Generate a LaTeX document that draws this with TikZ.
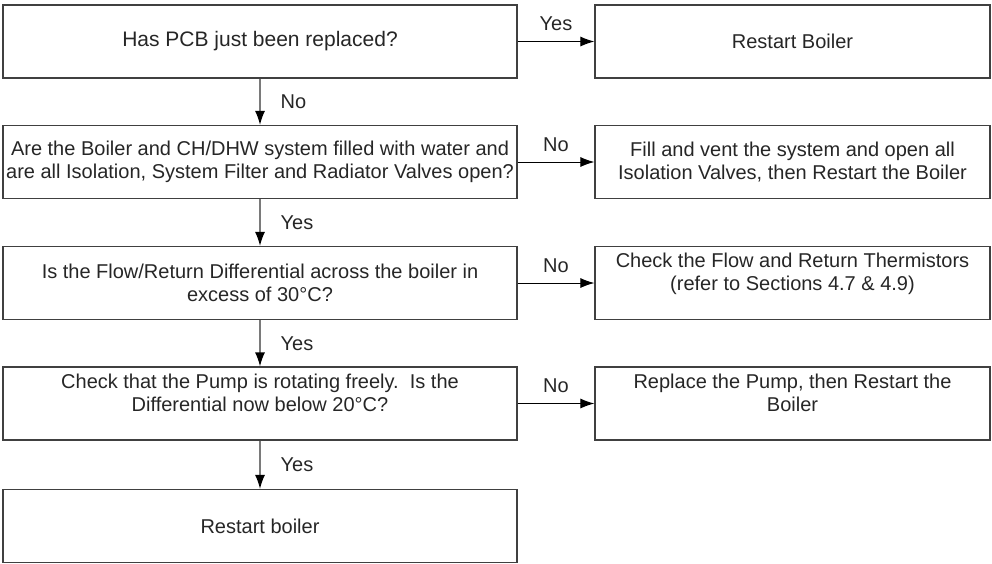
\documentclass[tikz,border=0pt]{standalone}
\usepackage{fontspec}
\setmainfont{Liberation Sans}
\usetikzlibrary{arrows.meta}
\definecolor{boxline}{HTML}{404040}
\definecolor{txt}{HTML}{262626}
\definecolor{stem}{HTML}{7A7A7A}

\begin{document}
\begin{tikzpicture}[x=1pt,y=-1pt,>={Latex[length=14pt,width=10pt,color=black]},
  box/.style={draw=boxline,line width=1.2pt,minimum height=73pt,inner sep=0pt,
    align=center,text=txt,font=\fontsize{20}{23}\selectfont},
  qbox/.style={box,minimum width=514pt},
  abox/.style={box,minimum width=395pt},
  raised/.style={text depth=22pt},
  down/.style={->,draw=stem,line width=1.3pt},
  side/.style={->,draw=black,line width=1pt},
  lbl/.style={inner sep=0pt,text=txt,font=\fontsize{20}{23}\selectfont}]
  \useasboundingbox (0,0) rectangle (992,563);
  % questions
  \node[qbox,font=\fontsize{21}{24}\selectfont] (q1) at (260,41.5) {Has PCB just been replaced?};
  \node[qbox] (q2) at (260,162) {Are the Boiler and CH/DHW system filled with water and\\are all Isolation, System Filter and Radiator Valves open?};
  \node[qbox] (q3) at (260,283) {Is the Flow/Return Differential across the boiler in\\excess of 30°C?};
  \node[qbox,raised] (q4) at (260,403.5) {Check that the Pump is rotating freely.\ \ Is the\\Differential now below 20°C?};
  \node[qbox] (q5) at (260,526) {Restart boiler};
  % actions
  \node[abox] (a1) at (792.5,41.5) {Restart Boiler};
  \node[abox] (a2) at (792.5,162) {Fill and vent the system and open all\\Isolation Valves, then Restart the Boiler};
  \node[abox,raised] (a3) at (792.5,283) {Check the Flow and Return Thermistors\\(refer to Sections 4.7 \& 4.9)};
  \node[abox,raised] (a4) at (792.5,403.5) {Replace the Pump, then Restart the\\Boiler};
  % connectors
  \draw[side] (q1) -- (a1) node[lbl,midway,above=10pt] {Yes};
  \draw[side] (q2) -- (a2) node[lbl,midway,above=10pt] {No};
  \draw[side] (q3) -- (a3) node[lbl,midway,above=10pt] {No};
  \draw[side] (q4) -- (a4) node[lbl,midway,above=10pt] {No};
  \draw[down] (q1) -- (q2) node[lbl,midway,right=20pt] {No};
  \draw[down] (q2) -- (q3) node[lbl,midway,right=20pt] {Yes};
  \draw[down] (q3) -- (q4) node[lbl,midway,right=20pt] {Yes};
  \draw[down] (q4) -- (q5) node[lbl,midway,right=20pt] {Yes};
\end{tikzpicture}
\end{document}
